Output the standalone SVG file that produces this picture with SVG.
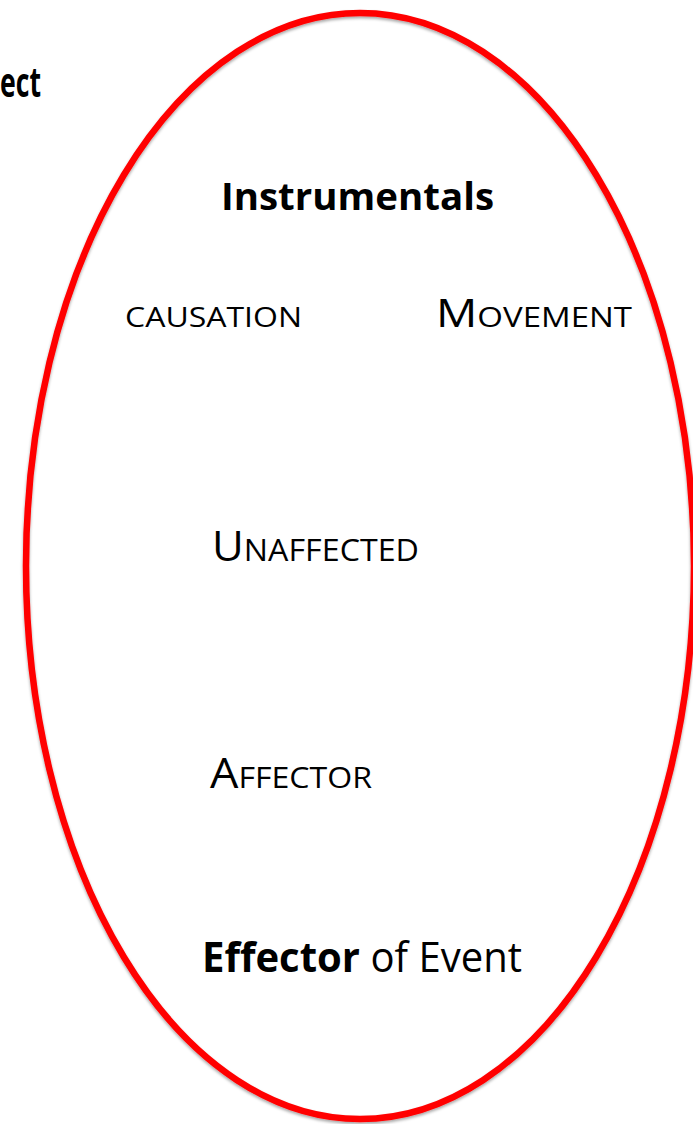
<svg xmlns="http://www.w3.org/2000/svg" width="693" height="1124" viewBox="0 0 693 1124">
<defs>
<style>
.t{font-family:"Open Sans","Liberation Sans",sans-serif;fill:#000}
.b{font-weight:bold}
</style>
<filter id="sh" x="-5%" y="-5%" width="110%" height="110%">
<feDropShadow dx="0" dy="2" stdDeviation="1.5" flood-color="#000" flood-opacity="0.35"/>
</filter>
</defs>
<rect width="693" height="1124" fill="#fff"/>
<g id="ellipse">
<ellipse cx="360" cy="566" rx="334" ry="553" fill="none" stroke="#ff0000" stroke-width="6.5" filter="url(#sh)"/>
</g>
<g id="ect"><text class="t b" x="0" y="97" font-size="42" textLength="41" lengthAdjust="spacingAndGlyphs">ect</text></g>
<g id="instrumentals"><text class="t b" x="221" y="210" font-size="38" textLength="273" lengthAdjust="spacingAndGlyphs">Instrumentals</text></g>
<g id="causation"><text class="t" x="125" y="327" font-size="28" textLength="177" lengthAdjust="spacingAndGlyphs">CAUSATION</text></g>
<g id="movement"><text class="t" x="436" y="327" textLength="196" lengthAdjust="spacingAndGlyphs"><tspan font-size="39">M</tspan><tspan font-size="28">OVEMENT</tspan></text></g>
<g id="unaffected"><text class="t" x="212" y="561" textLength="207" lengthAdjust="spacingAndGlyphs"><tspan font-size="42">U</tspan><tspan font-size="31">NAFFECTED</tspan></text></g>
<g id="affector"><text class="t" x="210" y="788" textLength="162" lengthAdjust="spacingAndGlyphs"><tspan font-size="42">A</tspan><tspan font-size="30">FFECTOR</tspan></text></g>
<g id="effector"><text class="t" x="202" y="972" font-size="42" textLength="320" lengthAdjust="spacingAndGlyphs"><tspan class="b">Effector</tspan> of Event</text></g>
</svg>
